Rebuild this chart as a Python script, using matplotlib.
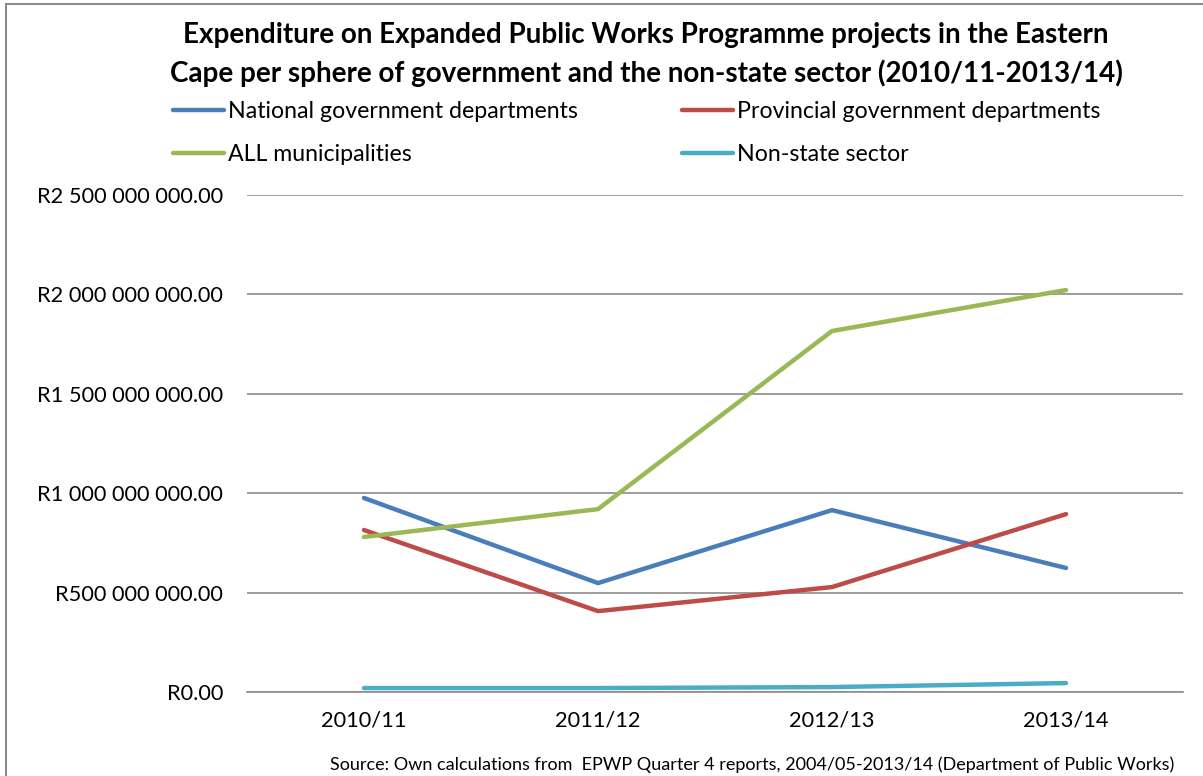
import matplotlib.pyplot as plt
from matplotlib.patches import Rectangle
from matplotlib.ticker import FuncFormatter

plt.rcParams['font.family'] = ['Lato', 'DejaVu Sans']

years = ['2010/11', '2011/12', '2012/13', '2013/14']
national = [976e6, 548e6, 915e6, 624e6]
provincial = [815e6, 407e6, 528e6, 895e6]
municipalities = [780e6, 920e6, 1816e6, 2022e6]
non_state = [20e6, 20e6, 25e6, 45e6]

series = [
    ('National government departments', national, '#4A7EBB'),
    ('Provincial government departments', provincial, '#BE4B48'),
    ('ALL municipalities', municipalities, '#98B954'),
    ('Non-state sector', non_state, '#4BACC6'),
]


def rand_fmt(v, pos):
    if v == 0:
        return 'R0.00'
    s = f'{int(round(v)):,}'.replace(',', ' ')
    return f'R{s}.00'


fig = plt.figure(figsize=(12.03, 7.76), dpi=100)
ax = fig.add_axes([0.2053, 0.1082, 0.7781, 0.6405])

x = range(len(years))
lines = {}
for name, vals, col in series:
    lines[name], = ax.plot(x, vals, color=col, lw=3.2, solid_capstyle='round',
                           solid_joinstyle='miter', label=name)

ax.set_xlim(-0.5, 3.5)
ax.set_ylim(0, 2.5e9)
ax.set_yticks([0, 0.5e9, 1e9, 1.5e9, 2e9, 2.5e9])
ax.yaxis.set_major_formatter(FuncFormatter(rand_fmt))
ax.set_xticks(list(x))
ax.set_xticklabels(years)
ax.grid(axis='y', color='#8C8C8C', lw=1.2)
ax.set_axisbelow(True)
for s in ['top', 'right', 'left']:
    ax.spines[s].set_visible(False)
ax.spines['bottom'].set_color('#8C8C8C')
ax.spines['bottom'].set_linewidth(1.2)
ax.tick_params(axis='both', length=0, labelsize=15.7)
ax.tick_params(axis='y', pad=17)
ax.tick_params(axis='x', pad=13)

# legend: two rows, two columns
order = ['National government departments', 'ALL municipalities',
         'Provincial government departments', 'Non-state sector']
fig.legend([lines[n] for n in order], order, ncol=2, loc='upper left',
           bbox_to_anchor=(0.136, 0.882), frameon=False, fontsize=16.7,
           handlelength=2.2, handletextpad=0.17, columnspacing=4.5,
           labelspacing=0.97, borderaxespad=0)

fig.text(0.537, 0.972, 'Expenditure on Expanded Public Works Programme projects in the Eastern\n'
         'Cape per sphere of government and the non-state sector (2010/11-2013/14)',
         ha='center', va='top', fontsize=20, fontweight='bold', linespacing=1.52)

fig.text(0.976, 0.0142, 'Source: Own calculations from  EPWP Quarter 4 reports, 2004/05-2013/14 (Department of Public Works)',
         ha='right', va='center', fontsize=13)

# chart border
fig.patches.append(Rectangle((6 / 1203, -0.1), 1.2, 1.1 - 4 / 776, transform=fig.transFigure,
                             fill=False, edgecolor='#8C8C8C', lw=1.5))

fig.savefig('out.png', dpi=100)
